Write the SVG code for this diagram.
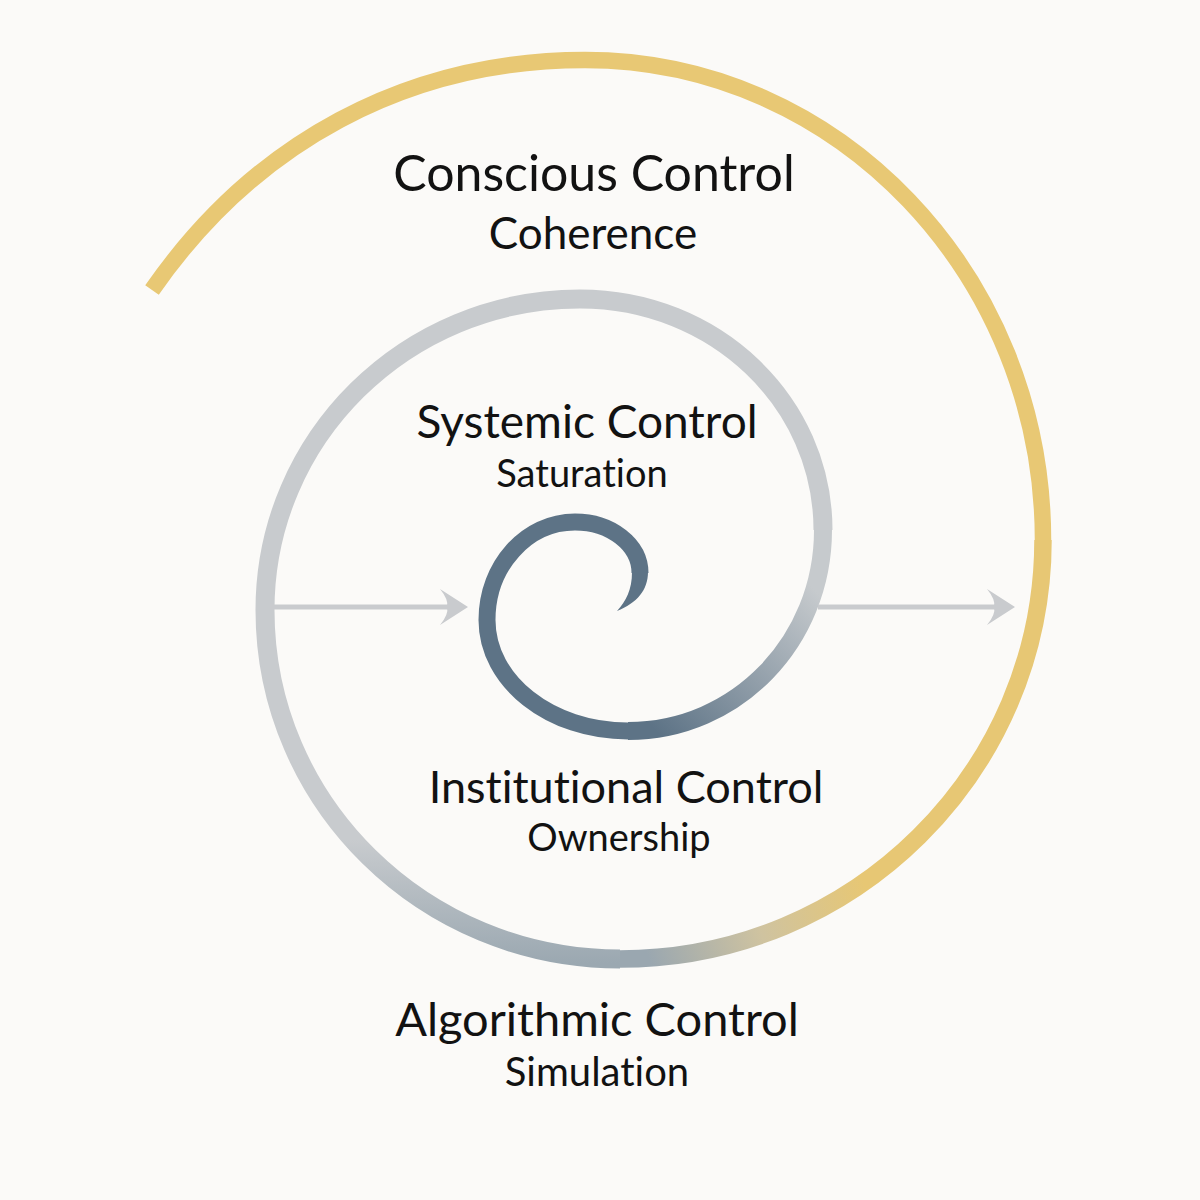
<svg xmlns="http://www.w3.org/2000/svg" width="1200" height="1200" viewBox="0 0 1200 1200">
  <defs>
    <style>
      .title { font-family: Lato, "Liberation Sans", sans-serif; fill: #121212; text-anchor: middle; font-variant-ligatures: none; font-feature-settings: "liga" 0; }
      .sub { font-family: Lato, "Liberation Sans", sans-serif; fill: #121212; text-anchor: middle; font-variant-ligatures: none; font-feature-settings: "liga" 0; }
      .sp { fill: none; stroke-linecap: butt; }
      .arrow { fill: none; stroke: #c9cbce; stroke-width: 5; marker-end: url(#head); }
    </style>
    <marker id="head" viewBox="0 0 30 36" refX="15" refY="18" markerWidth="30" markerHeight="36" markerUnits="userSpaceOnUse" orient="auto">
      <path d="M28,18 L0,0 Q9,11 7,18 Q9,25 0,36 Z" fill="#c9cbce"/>
    </marker>
    <linearGradient id="gDarkGray" gradientUnits="userSpaceOnUse" x1="665" y1="740" x2="815" y2="590">
      <stop offset="0" stop-color="#5d7386"/>
      <stop offset="1" stop-color="#c6cacd"/>
    </linearGradient>
    <linearGradient id="gGray" gradientUnits="userSpaceOnUse" x1="0" y1="840" x2="0" y2="963">
      <stop offset="0" stop-color="#c8cbce"/>
      <stop offset="1" stop-color="#9ba8b1"/>
    </linearGradient>
    <linearGradient id="gGold" gradientUnits="userSpaceOnUse" x1="650" y1="962" x2="865" y2="885">
      <stop offset="0" stop-color="#9aa7b0"/>
      <stop offset="0.5" stop-color="#cfc3a0"/>
      <stop offset="1" stop-color="#e7c774"/>
    </linearGradient>
  </defs>
  <rect width="1200" height="1200" fill="#fbfaf8"/>

  <g id="spiral">
    <path d="M648,572 C648,590 637,603 617,611 C626,601 632,590 632,572 Z" fill="#5d7386"/>
    <path class="sp" stroke="#5d7386" stroke-width="17" d="M640,573 C640,544.8 610.9,522 575,522 C526.4,522 487,565.9 487,620 C487,681.3 550.1,731 628,731"/>
    <path class="sp" stroke="url(#gDarkGray)" stroke-width="18" d="M628,731 C736.8,731 823,641 823,530"/>
    <path class="sp" stroke="url(#gGray)" stroke-width="19" d="M823,530 C823,402.4 715.3,299 580,299 C406,299 265,438.2 265,610 C265,802.8 424,959 620,959"/>
    <path class="sp" stroke="url(#gGold)" stroke-width="17.5" d="M620,959 C853.6,959 1043,771.4 1043,540"/>
    <path class="sp" stroke="#e8c874" stroke-width="16.5" d="M1043,540 C1043,274.9 838,60 585,60 C406,60 254,143.2 152,290"/>
  </g>

  <g id="connectors">
    <path id="arrow-inner" class="arrow" d="M270,607 H455"/>
    <path id="arrow-outer" class="arrow" d="M818,607 H1002"/>
  </g>

  <g id="conscious">
    <text class="title" x="594" y="191" font-size="50">Conscious Control</text>
    <text class="sub" x="593" y="249" font-size="44">Coherence</text>
  </g>
  <g id="systemic">
    <text class="title" x="587" y="438" font-size="46">Systemic Control</text>
    <text class="sub" x="582" y="487" font-size="38">Saturation</text>
  </g>
  <g id="institutional">
    <text class="title" x="626" y="803" font-size="45">Institutional Control</text>
    <text class="sub" x="619" y="851" font-size="38">Ownership</text>
  </g>
  <g id="algorithmic">
    <text class="title" x="597" y="1036" font-size="47">Algorithmic Control</text>
    <text class="sub" x="597" y="1086" font-size="40">Simulation</text>
  </g>
</svg>
